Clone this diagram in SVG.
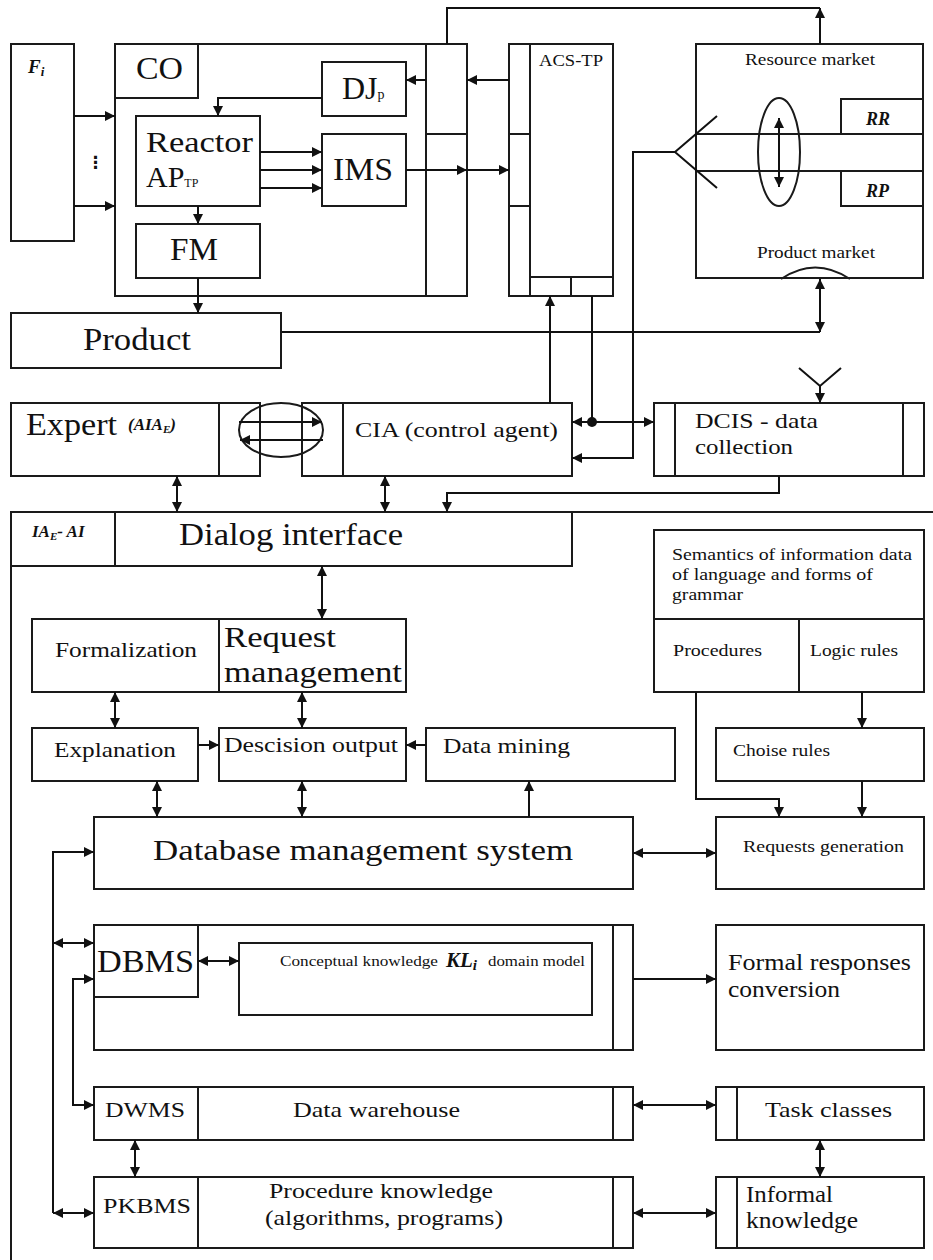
<svg xmlns="http://www.w3.org/2000/svg" width="933" height="1260" viewBox="0 0 933 1260">
<style>
.b{fill:#fff;stroke:#1a1a1a;stroke-width:2}
.n{fill:none;stroke:#1a1a1a;stroke-width:2}
.c{fill:none;stroke:#111;stroke-width:2}
.a{marker-end:url(#ah)}
.d{marker-start:url(#ah);marker-end:url(#ah)}
text{font-family:"Liberation Serif","Times New Roman",serif;fill:#111}
.bi{font-weight:bold;font-style:italic}
</style>
<defs>
<marker id="ah" viewBox="0 0 10 10" refX="10" refY="5" markerWidth="11" markerHeight="10" markerUnits="userSpaceOnUse" orient="auto-start-reverse"><path d="M0,0 L10,5 L0,10 Z" fill="#111"/></marker>
</defs>
<rect width="933" height="1260" fill="#fff"/>
<g id="frame"><path class="n" d="M11,1260 V512 H933"/></g>
<g id="Fi"><rect class="b" x="11" y="44" width="63" height="197"/><text x="28" y="73" font-size="19" class="bi">F<tspan font-size="13" dy="3">i</tspan></text><text x="87" y="168" font-size="17" font-weight="bold" style="font-family:'DejaVu Sans',sans-serif">⋮</text></g>
<g id="CO"><rect class="b" x="115" y="44" width="352" height="252"/><rect class="b" x="115" y="44" width="83" height="54"/><path class="n" d="M426,44 V296 M426,134 H467"/><text x="136" y="79" font-size="32" textLength="47" lengthAdjust="spacingAndGlyphs">CO</text></g>
<g id="Reactor"><rect class="b" x="136" y="116" width="124" height="90"/><text x="146" y="152" font-size="30" textLength="107" lengthAdjust="spacingAndGlyphs">Reactor</text><text x="146" y="187" font-size="30">AP<tspan font-size="12">TP</tspan></text></g>
<g id="FM"><rect class="b" x="136" y="224" width="124" height="54"/><text x="170" y="260" font-size="32" textLength="48" lengthAdjust="spacingAndGlyphs">FM</text></g>
<g id="DJp"><rect class="b" x="322" y="62" width="84" height="54"/><text x="342" y="99" font-size="32">DJ<tspan font-size="14">p</tspan></text></g>
<g id="IMS"><rect class="b" x="322" y="134" width="84" height="72"/><text x="333" y="180" font-size="32" textLength="60" lengthAdjust="spacingAndGlyphs">IMS</text></g>
<g id="ACS-TP"><rect class="b" x="509" y="44" width="104" height="252"/><path class="n" d="M530,44 V296 M509,134 H530 M509,206 H530 M530,277 H613 M571,277 V296"/><text x="539" y="66" font-size="16" textLength="64" lengthAdjust="spacingAndGlyphs">ACS-TP</text></g>
<g id="market"><rect class="b" x="696" y="44" width="227" height="234"/><path class="n" d="M696,134 H923 M696,171 H923"/><rect class="b" x="841" y="99" width="82" height="35"/><rect class="b" x="841" y="171" width="82" height="35"/><ellipse class="n" cx="779" cy="152" rx="21" ry="54"/><path class="n" d="M781,279 Q815,256 850,279"/><text x="745" y="65" font-size="16" textLength="130" lengthAdjust="spacingAndGlyphs">Resource market</text><text x="866" y="125" font-size="18" class="bi">RR</text><text x="866" y="197" font-size="18" class="bi">RP</text><text x="757" y="258" font-size="16" textLength="118" lengthAdjust="spacingAndGlyphs">Product market</text></g>
<g id="Product"><rect class="b" x="11" y="313" width="270" height="55"/><text x="83" y="350" font-size="31" textLength="108" lengthAdjust="spacingAndGlyphs">Product</text></g>
<g id="Expert"><rect class="b" x="11" y="403" width="249" height="73"/><path class="n" d="M219,403 V476"/><text x="26" y="435" font-size="31" textLength="91" lengthAdjust="spacingAndGlyphs">Expert</text><text x="128" y="430" font-size="17" class="bi">(AIA<tspan font-size="11" dy="3">E</tspan><tspan dy="-3">)</tspan></text></g>
<g id="CIA"><rect class="b" x="302" y="403" width="270" height="73"/><path class="n" d="M343,403 V476"/><text x="355" y="437" font-size="21" textLength="203" lengthAdjust="spacingAndGlyphs">CIA (control agent)</text></g>
<g id="DCIS"><rect class="b" x="654" y="403" width="270" height="73"/><path class="n" d="M675,403 V476 M903,403 V476"/><text x="695" y="428" font-size="22" textLength="123" lengthAdjust="spacingAndGlyphs">DCIS - data</text><text x="695" y="454" font-size="22" textLength="98" lengthAdjust="spacingAndGlyphs">collection</text></g>
<g id="Dialog"><rect class="b" x="11" y="512" width="561" height="54"/><path class="n" d="M115,512 V566"/><text x="32" y="537" font-size="17" class="bi">IA<tspan font-size="11" dy="3">E</tspan><tspan dy="-3">- AI</tspan></text><text x="179" y="545" font-size="32" textLength="224" lengthAdjust="spacingAndGlyphs">Dialog interface</text></g>
<g id="Semantics"><rect class="b" x="654" y="530" width="270" height="162"/><path class="n" d="M654,619 H924 M799,619 V692"/><text x="672" y="560" font-size="16.5" textLength="240" lengthAdjust="spacingAndGlyphs">Semantics of information data</text><text x="672" y="580" font-size="16.5" textLength="201" lengthAdjust="spacingAndGlyphs">of language and forms of</text><text x="672" y="600" font-size="16.5" textLength="71" lengthAdjust="spacingAndGlyphs">grammar</text><text x="673" y="656" font-size="16.5" textLength="89" lengthAdjust="spacingAndGlyphs">Procedures</text><text x="810" y="656" font-size="16.5" textLength="88" lengthAdjust="spacingAndGlyphs">Logic rules</text></g>
<g id="Request"><rect class="b" x="32" y="619" width="374" height="73"/><path class="n" d="M219,619 V692"/><text x="55" y="657" font-size="21" textLength="142" lengthAdjust="spacingAndGlyphs">Formalization</text><text x="224" y="647" font-size="29" textLength="112" lengthAdjust="spacingAndGlyphs">Request</text><text x="224" y="682" font-size="29" textLength="178" lengthAdjust="spacingAndGlyphs">management</text></g>
<g id="Explanation"><rect class="b" x="32" y="728" width="166" height="53"/><text x="54" y="757" font-size="21" textLength="122" lengthAdjust="spacingAndGlyphs">Explanation</text></g>
<g id="Decision"><rect class="b" x="219" y="728" width="187" height="53"/><text x="224" y="752" font-size="21" textLength="174" lengthAdjust="spacingAndGlyphs">Descision output</text></g>
<g id="DataMining"><rect class="b" x="426" y="728" width="249" height="53"/><text x="443" y="753" font-size="21" textLength="127" lengthAdjust="spacingAndGlyphs">Data mining</text></g>
<g id="Choise"><rect class="b" x="716" y="728" width="208" height="53"/><text x="733" y="756" font-size="16.5" textLength="97" lengthAdjust="spacingAndGlyphs">Choise rules</text></g>
<g id="DBSystem"><rect class="b" x="94" y="817" width="539" height="72"/><text x="153" y="860" font-size="30" textLength="420" lengthAdjust="spacingAndGlyphs">Database management system</text></g>
<g id="Requests"><rect class="b" x="716" y="817" width="208" height="72"/><text x="743" y="852" font-size="16.5" textLength="161" lengthAdjust="spacingAndGlyphs">Requests generation</text></g>
<g id="DBMS"><rect class="b" x="94" y="925" width="539" height="125"/><path class="n" d="M613,925 V1050"/><rect class="b" x="94" y="925" width="104" height="72"/><text x="97" y="972" font-size="32" textLength="97" lengthAdjust="spacingAndGlyphs">DBMS</text></g>
<g id="Conceptual"><rect class="b" x="239" y="943" width="353" height="72"/><text x="280" y="966" font-size="15" textLength="158" lengthAdjust="spacingAndGlyphs">Conceptual knowledge</text><text x="446" y="967" font-size="21" class="bi">KL<tspan font-size="15" dy="3">i</tspan></text><text x="488" y="966" font-size="15" textLength="97" lengthAdjust="spacingAndGlyphs">domain model</text></g>
<g id="Formal"><rect class="b" x="716" y="925" width="208" height="125"/><text x="728" y="970" font-size="23" textLength="183" lengthAdjust="spacingAndGlyphs">Formal responses</text><text x="728" y="997" font-size="23" textLength="112" lengthAdjust="spacingAndGlyphs">conversion</text></g>
<g id="DWMS"><rect class="b" x="94" y="1087" width="539" height="53"/><path class="n" d="M198,1087 V1140 M613,1087 V1140"/><text x="105" y="1117" font-size="21" textLength="80" lengthAdjust="spacingAndGlyphs">DWMS</text><text x="293" y="1117" font-size="21" textLength="167" lengthAdjust="spacingAndGlyphs">Data warehouse</text></g>
<g id="Task"><rect class="b" x="716" y="1087" width="208" height="53"/><path class="n" d="M737,1087 V1140"/><text x="765" y="1117" font-size="22" textLength="127" lengthAdjust="spacingAndGlyphs">Task classes</text></g>
<g id="PKBMS"><rect class="b" x="94" y="1177" width="539" height="71"/><path class="n" d="M198,1177 V1248 M613,1177 V1248"/><text x="103" y="1213" font-size="21" textLength="88" lengthAdjust="spacingAndGlyphs">PKBMS</text><text x="269" y="1198" font-size="21" textLength="224" lengthAdjust="spacingAndGlyphs">Procedure knowledge</text><text x="265" y="1225" font-size="21" textLength="238" lengthAdjust="spacingAndGlyphs">(algorithms, programs)</text></g>
<g id="Informal"><rect class="b" x="716" y="1177" width="208" height="71"/><path class="n" d="M737,1177 V1248"/><text x="746" y="1202" font-size="23" textLength="87" lengthAdjust="spacingAndGlyphs">Informal</text><text x="746" y="1228" font-size="23" textLength="112" lengthAdjust="spacingAndGlyphs">knowledge</text></g>
<g id="connectors">
<path class="c a" d="M74,116 H115"/>
<path class="c a" d="M74,206 H115"/>
<path class="c a" d="M322,98 H218 V116"/>
<path class="c a" d="M260,152 H322"/>
<path class="c a" d="M260,170 H322"/>
<path class="c a" d="M260,188 H322"/>
<path class="c a" d="M198,206 V224"/>
<path class="c a" d="M198,278 V313"/>
<path class="c a" d="M406,170 H467"/>
<path class="c a" d="M467,170 H509"/>
<path class="c a" d="M509,80 H467"/>
<path class="c a" d="M426,80 H406"/>
<path class="c" d="M447,44 V8 H820"/>
<path class="c a" d="M820,44 V8"/>
<path class="c" d="M717,116 L675,152 L717,188"/>
<path class="c a" d="M675,152 H633 V458 H572"/>
<path class="c d" d="M779,118 V187"/>
<path class="c" d="M282,332 H820"/>
<path class="c d" d="M820,279 V332"/>
<path class="c a" d="M550,403 V296"/>
<path class="c" d="M592,296 V422"/>
<circle cx="592" cy="422" r="5" fill="#111"/>
<path class="c a" d="M592,422 H572"/>
<path class="c a" d="M592,422 H654"/>
<path class="c" d="M799,368 L820,386 L841,368"/>
<path class="c a" d="M820,386 V403"/>
<path class="c d" d="M177,476 V512"/>
<path class="c d" d="M385,476 V512"/>
<path class="c a" d="M779,476 V493 H447 V512"/>
<ellipse class="n" cx="281" cy="430" rx="42" ry="27"/>
<path class="c a" d="M239,422 H322"/>
<path class="c a" d="M323,440 H240"/>
<path class="c d" d="M322,566 V619"/>
<path class="c d" d="M115,692 V728"/>
<path class="c d" d="M302,692 V728"/>
<path class="c a" d="M198,745 H219"/>
<path class="c a" d="M426,745 H406"/>
<path class="c a" d="M862,692 V728"/>
<path class="c a" d="M696,692 V799 H779 V817"/>
<path class="c a" d="M862,781 V817"/>
<path class="c a" d="M529,817 V781"/>
<path class="c d" d="M157,781 V817"/>
<path class="c d" d="M302,781 V817"/>
<path class="c d" d="M633,853 H716"/>
<path class="c a" d="M53,1213 V852 H94"/>
<path class="c d" d="M53,943 H94"/>
<path class="c d" d="M53,1213 H94"/>
<path class="c d" d="M94,979 H73 V1105 H94"/>
<path class="c d" d="M198,961 H239"/>
<path class="c a" d="M633,979 H716"/>
<path class="c d" d="M633,1105 H716"/>
<path class="c d" d="M135,1140 V1177"/>
<path class="c d" d="M633,1213 H716"/>
<path class="c d" d="M820,1140 V1177"/>
</g>
</svg>
